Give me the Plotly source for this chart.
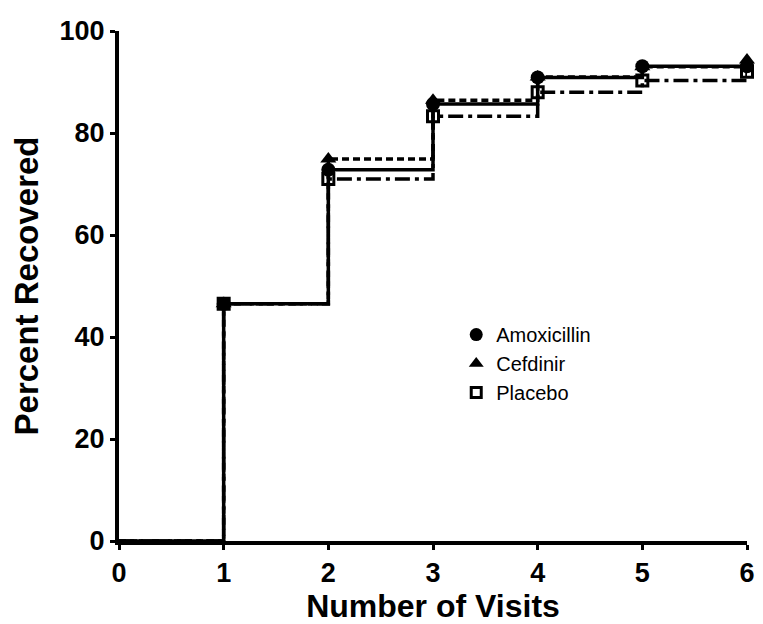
import plotly.graph_objects as go

visits = [0, 1, 2, 3, 4, 5, 6]
amoxicillin = [0, 46.5, 72.8, 85.7, 90.9, 93.1, 93.1]
cefdinir = [0, 46.5, 74.9, 86.4, 91.0, 93.0, 94.3]
placebo = [0, 46.5, 71.0, 83.3, 88.0, 90.3, 92.0]

series = [
    ("Amoxicillin", amoxicillin, "solid", "circle", 14),
    ("Cefdinir", cefdinir, "7px,4px", "triangle-up", 14),
    ("Placebo", placebo, "15px,5px,4px,5px", "square-open", 11),
]

FONT = "Liberation Sans, Arial"

fig = go.Figure()
for name, vals, dash, sym, size in series:
    fig.add_trace(go.Scatter(
        x=visits, y=vals, mode="lines", line=dict(color="black", width=3.5, dash=dash, shape="hv"),
        showlegend=False, hoverinfo="skip"))
    mk = dict(symbol=sym, size=size, color="black")
    if sym.endswith("open"):
        mk["line"] = dict(color="black", width=3)
    fig.add_trace(go.Scatter(
        x=visits[1:], y=vals[1:], mode="markers", marker=mk, showlegend=False, cliponaxis=False))
    lmk = dict(mk)
    lmk["size"] = size - 1
    fig.add_trace(go.Scatter(x=[None], y=[None], mode="markers", marker=lmk, name=name,
                             legendgroup=name))

axis_common = dict(
    showline=True, linecolor="black", linewidth=4, showgrid=False, zeroline=False,
    ticks="outside", ticklen=5, tickwidth=3, tickcolor="black",
    tickfont=dict(family=FONT, size=27, color="black", weight="bold"),
)
fig.update_xaxes(range=[0, 6], dtick=1, tick0=0,
                 title=dict(text="Number of Visits", standoff=5,
                            font=dict(family=FONT, size=32, color="black", weight="bold")),
                 **axis_common)
fig.update_yaxes(range=[0, 100], dtick=20, tick0=0,
                 title=dict(text="Percent Recovered", standoff=14,
                            font=dict(family=FONT, size=33, color="black", weight="bold")),
                 **axis_common)
fig.update_layout(
    width=755, height=616,
    margin=dict(l=111, r=8, t=15, b=81),
    plot_bgcolor="white", paper_bgcolor="white",
    legend=dict(x=0.537, y=0.443, xanchor="left", yanchor="top", bgcolor="rgba(0,0,0,0)",
                font=dict(family=FONT, size=20, color="black"),
                itemwidth=30, tracegroupgap=0),
)
fig.write_html("out.html")
